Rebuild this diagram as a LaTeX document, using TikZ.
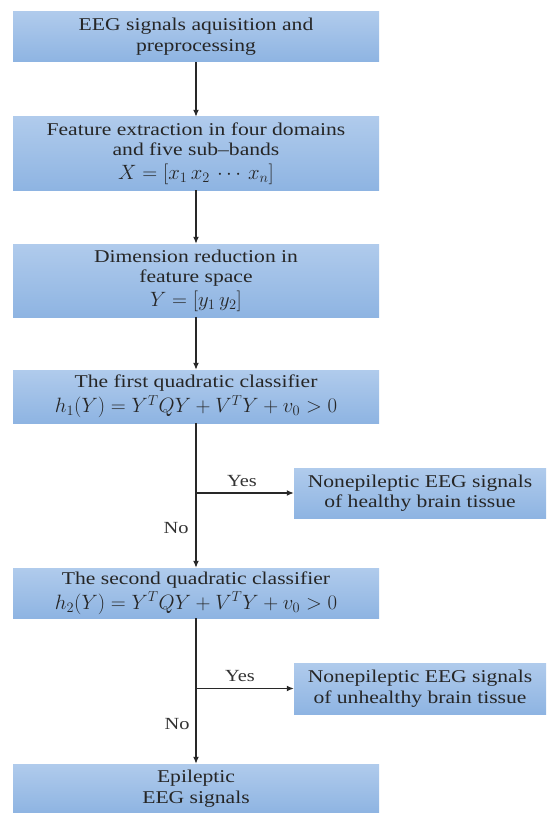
\documentclass[tikz,border=0pt]{standalone}
\usepackage{graphicx}
\usepackage{fontspec}
\setmainfont[FakeStretch=1.2]{Liberation Serif}
\usetikzlibrary{arrows.meta}
\definecolor{boxtop}{RGB}{176,203,236}
\definecolor{boxbot}{RGB}{142,180,226}
\definecolor{lin}{RGB}{40,40,40}
\newcommand{\fmath}[1]{\scalebox{1.2}{$#1$}}
\tikzset{
  flowbox/.style={top color=boxtop, bottom color=boxbot, draw=none, inner sep=0pt,
    align=center, font=\fontsize{18}{20.5}\selectfont, text=black!85},
  flowarrow/.style={draw=lin, line width=1.3pt, -{Latex[length=7pt,width=6pt]}},
  flowlabel/.style={font=\fontsize{17}{20}\selectfont, text=black!80}
}
\begin{document}
\begin{tikzpicture}[x=1pt,y=1pt]
\useasboundingbox (0,0) rectangle (546,-813);
\node[flowbox, minimum width=366pt, minimum height=50pt] (B1) at (196,-36.7)
  {EEG signals aquisition and\\preprocessing};
\node[flowbox, minimum width=366pt, minimum height=73pt] (B2) at (196,-153.5)
  {Feature extraction in four domains\\and five sub--bands\\[3pt]\fmath{X=[x_1\,x_2\,\cdots\,x_n]}};
\node[flowbox, minimum width=366pt, minimum height=73pt] (B3) at (196,-280.5)
  {Dimension reduction in\\feature space\\[3pt]\fmath{Y=[y_1\,y_2]}};
\node[flowbox, minimum width=366pt, minimum height=53pt] (B4) at (196,-396.5)
  {The first quadratic classifier\\[3pt]\fmath{h_1(Y)=Y^TQY+V^TY+v_0>0}};
\node[flowbox, minimum width=252pt, minimum height=50pt] (R1) at (420,-493)
  {Nonepileptic EEG signals\\of healthy brain tissue};
\node[flowbox, minimum width=366pt, minimum height=50pt] (B5) at (196,-593)
  {The second quadratic classifier\\[3pt]\fmath{h_2(Y)=Y^TQY+V^TY+v_0>0}};
\node[flowbox, minimum width=252pt, minimum height=51pt] (R2) at (420,-688.5)
  {Nonepileptic EEG signals\\of unhealthy brain tissue};
\node[flowbox, minimum width=366pt, minimum height=49pt] (B6) at (196,-788.5)
  {Epileptic\\EEG signals};

\draw[flowarrow] (B1) -- (B2);
\draw[flowarrow] (B2) -- (B3);
\draw[flowarrow] (B3) -- (B4);
\draw[flowarrow] (B4) -- (B5);
\draw[flowarrow] (B5) -- (B6);

\coordinate (J1) at (B4.south |- R1.west);
\coordinate (J2) at (B5.south |- R2.west);
\draw[flowarrow] (J1) -- (R1.west);
\draw[flowarrow] (J2) -- (R2.west);

\node[flowlabel] (Y1) at (242,-481) {Yes};
\node[flowlabel] (N1) at (176,-528) {No};
\node[flowlabel] (Y2) at (240,-676) {Yes};
\node[flowlabel] (N2) at (177,-724) {No};
\end{tikzpicture}
\end{document}
